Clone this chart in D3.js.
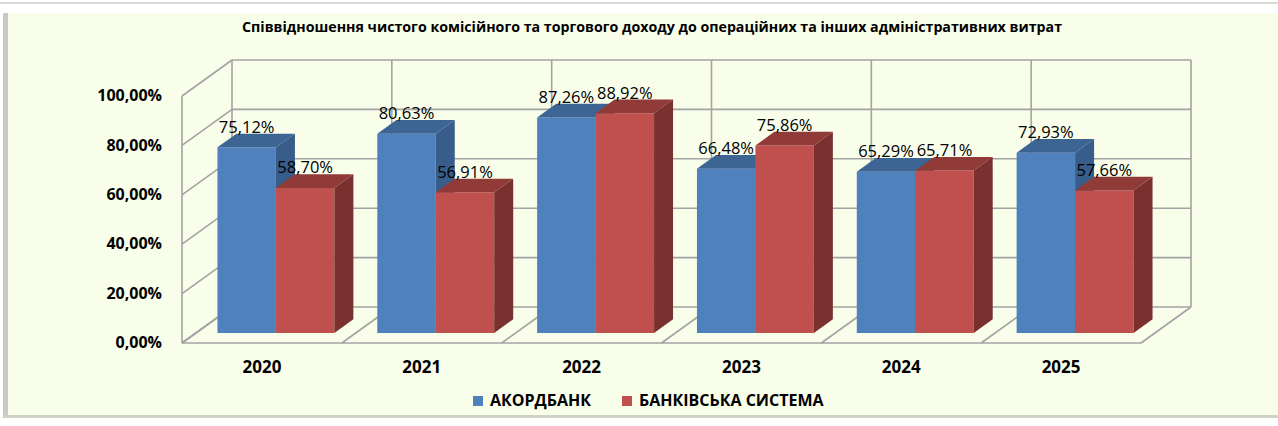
<html>
	<head>
		<meta charset="utf-8">
		<script src="https://d3js.org/d3.v7.min.js"></script>
		<style>
			body {
				margin: 0;
				background: #ffffff;
			}
			text {
				font-family: "Open Sans", "DejaVu Sans", sans-serif;
				fill: #000000;
			}
			.bold {
				font-weight: 700;
			}
		</style>
	</head>
	<body>
		<div class="svg-container"></div>
		<script type="text/javascript">
			// data
			var years = ['2020', '2021', '2022', '2023', '2024', '2025'];
			var akordbank = [75.12, 80.63, 87.26, 66.48, 65.29, 72.93];
			var bankSystem = [58.70, 56.91, 88.92, 75.86, 65.71, 57.66];
			var seriesNames = ['АКОРДБАНК', 'БАНКІВСЬКА СИСТЕМА'];
			var yTicks = [0, 20, 40, 60, 80, 100];
			var title = 'Співвідношення чистого комісійного та торгового доходу до операційних та інших адміністративних витрат';

			var w = 1278;
			var h = 426;

			// front plane of the 3D box
			var x0 = 182, x1 = 1141;
			var yBottom = 343, yTop = 96;
			// depth of the box (oblique projection)
			var depthX = 50, depthY = -36;
			// bars sit between these depth fractions
			var f1 = 0.28, f2 = 0.66;

			var colors = {
				blue: { front: '#4f81bd', top: '#3d6594', side: '#385d8a' },
				red: { front: '#c0504d', top: '#913b39', side: '#7a302e' }
			};

			var Xscale = d3.scaleBand().domain(years).range([x0, x1]);
			var Sub = d3.scaleBand().domain(seriesNames).range([0, Xscale.bandwidth()]).paddingOuter(0.367);
			var Yscale = d3.scaleLinear().domain([0, 100]).range([yBottom, yTop]);

			var svg = d3.select('.svg-container').append('svg').attr('width', w).attr('height', h);

			// frame / background
			svg.append('rect').attr('x', 0).attr('y', 2).attr('width', w).attr('height', 2).attr('fill', '#dcdcd6');
			svg.append('rect').attr('x', 3).attr('y', 13).attr('width', 5).attr('height', 404).attr('fill', '#c9cbc0');
			svg.append('rect').attr('x', 8).attr('y', 13).attr('width', w - 8).attr('height', 402).attr('fill', '#f9feeb');
			svg.append('rect').attr('x', 3).attr('y', 415).attr('width', w - 3).attr('height', 3).attr('fill', '#d0d2c8');

			// heading
			svg.append('text').attr('class', 'bold').attr('x', 652).attr('y', 28)
				.attr('text-anchor', 'middle').attr('dominant-baseline', 'middle')
				.attr('font-size', '14px').attr('textLength', 820).attr('lengthAdjust', 'spacingAndGlyphs')
				.text(title);

			var grid = svg.append('g').attr('fill', 'none').attr('stroke', '#a3a3a3').attr('stroke-width', 1.6);

			// back wall horizontal lines + left wall diagonals
			yTicks.forEach(function (t) {
				var y = Yscale(t);
				grid.append('line').attr('x1', x0 + depthX).attr('y1', y + depthY).attr('x2', x1 + depthX).attr('y2', y + depthY);
				grid.append('line').attr('x1', x0).attr('y1', y).attr('x2', x0 + depthX).attr('y2', y + depthY);
			});
			// back wall verticals at category boundaries
			years.forEach(function (d, i) {
				var bx = Xscale(d) + depthX;
				if (i > 0) grid.append('line').attr('x1', bx).attr('y1', Yscale(100) + depthY).attr('x2', bx).attr('y2', yBottom + depthY);
			});
			grid.append('line').attr('x1', x0 + depthX).attr('y1', Yscale(100) + depthY).attr('x2', x0 + depthX).attr('y2', yBottom + depthY);
			grid.append('line').attr('x1', x1 + depthX).attr('y1', Yscale(100) + depthY).attr('x2', x1 + depthX).attr('y2', yBottom + depthY);
			// left wall front edge
			grid.append('line').attr('x1', x0).attr('y1', Yscale(100)).attr('x2', x0).attr('y2', yBottom);
			// floor
			grid.append('line').attr('x1', x0).attr('y1', yBottom).attr('x2', x1).attr('y2', yBottom);
			years.concat(['end']).forEach(function (d, i) {
				var fx = i < years.length ? Xscale(d) : x1;
				grid.append('line').attr('x1', fx).attr('y1', yBottom).attr('x2', fx + depthX).attr('y2', yBottom + depthY);
			});

			// bars
			var barW = Sub.bandwidth();
			var dx1 = depthX * f1, dy1 = depthY * f1;
			var ddx = depthX * (f2 - f1), ddy = depthY * (f2 - f1);
			var bars = svg.append('g');
			var labels = [];

			years.forEach(function (year, i) {
				[[akordbank[i], colors.blue, seriesNames[0]], [bankSystem[i], colors.red, seriesNames[1]]].forEach(function (s) {
					var v = s[0], c = s[1];
					var xl = Xscale(year) + Sub(s[2]) + dx1;
					var xr = xl + barW;
					var yb = yBottom + dy1;
					var yt = Yscale(v) + dy1;
					// front
					bars.append('path').attr('fill', c.front)
						.attr('d', 'M' + xl + ',' + yb + 'L' + xl + ',' + yt + 'L' + xr + ',' + yt + 'L' + xr + ',' + yb + 'Z');
					// top
					bars.append('path').attr('fill', c.top)
						.attr('d', 'M' + xl + ',' + yt + 'L' + (xl + ddx) + ',' + (yt + ddy) + 'L' + (xr + ddx) + ',' + (yt + ddy) + 'L' + xr + ',' + yt + 'Z');
					// side
					bars.append('path').attr('fill', c.side)
						.attr('d', 'M' + xr + ',' + yt + 'L' + (xr + ddx) + ',' + (yt + ddy) + 'L' + (xr + ddx) + ',' + (yb + ddy) + 'L' + xr + ',' + yb + 'Z');
					labels.push({ x: xl + barW / 2, y: yt + ddy - 1, v: v });
				});
			});

			// data labels
			var fmt = function (v) { return d3.format('.2f')(v).replace('.', ',') + '%'; };
			svg.append('g').selectAll('text').data(labels).enter().append('text')
				.attr('x', function (d) { return d.x; }).attr('y', function (d) { return d.y; })
				.attr('text-anchor', 'middle').attr('font-size', '16.5px')
				.text(function (d) { return fmt(d.v); });

			// y axis labels
			svg.append('g').selectAll('text').data(yTicks).enter().append('text').attr('class', 'bold')
				.attr('x', 162).attr('y', function (d) { return Yscale(d) + 1; })
				.attr('text-anchor', 'end').attr('dominant-baseline', 'middle').attr('font-size', '16px')
				.text(function (d) { return fmt(d); });

			// x axis labels
			svg.append('g').selectAll('text').data(years).enter().append('text').attr('class', 'bold')
				.attr('x', function (d) { return Xscale(d) + Xscale.bandwidth() / 2; }).attr('y', 368)
				.attr('text-anchor', 'middle').attr('dominant-baseline', 'middle').attr('font-size', '17px')
				.text(function (d) { return d; });

			// legend
			var legendX = [473, 622];
			var legendC = [colors.blue.front, colors.red.front];
			seriesNames.forEach(function (name, i) {
				svg.append('rect').attr('x', legendX[i]).attr('y', 396).attr('width', 10).attr('height', 10).attr('fill', legendC[i]);
				svg.append('text').attr('class', 'bold').attr('x', legendX[i] + 17).attr('y', 402)
					.attr('dominant-baseline', 'middle').attr('font-size', '16px').text(name);
			});
		</script>
	</body>
</html>
